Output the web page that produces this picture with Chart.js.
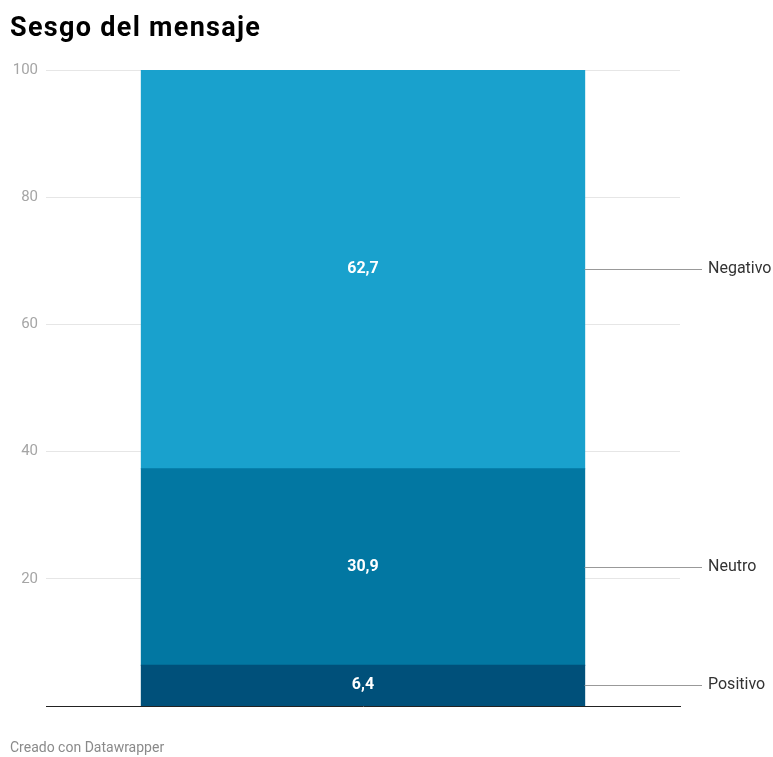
<!DOCTYPE html>
<html lang="es">
<head>
<meta charset="utf-8">
<title>Sesgo del mensaje</title>
<script src="https://cdn.jsdelivr.net/npm/chart.js@4/dist/chart.umd.min.js"></script>
<style>
    body { margin: 0; background: #fff; font-family: Roboto, sans-serif; }
    #contenedor { position: relative; width: 773px; height: 757px; }
    #titulo { position: absolute; left: 10px; top: 14px; margin: 0; font-size: 27px; line-height: 1; letter-spacing: 1.3px; font-weight: 700; color: #000; }
    #pie { position: absolute; left: 10px; top: 740px; font-size: 14px; line-height: 1; color: #8a8a8a; }
    #grafico { position: absolute; left: 0; top: 0; }
</style>
</head>
<body>
<div id="contenedor">
    <canvas id="grafico" width="773" height="757"></canvas>
    <h1 id="titulo">Sesgo del mensaje</h1>
    <div id="pie">Creado con Datawrapper</div>
</div>
<script>
// Datos del gráfico: una sola barra apilada.
const CATEGORIAS = ['Sesgo del mensaje'];
const SERIES = ['Positivo', 'Neutro', 'Negativo'];
const VALORES = [6.4, 30.9, 62.7];
const COLORES = ['#00507a', '#0277a2', '#19a1cd'];
const TICKS_Y = [0, 20, 40, 60, 80, 100];

// Formato de número con coma decimal.
const formato = (v) => v.toFixed(1).replace('.', ',');

// Plugin que escribe los valores dentro de cada tramo y las etiquetas con línea guía a la derecha.
const etiquetas = {
    id: 'etiquetas',
    afterDatasetsDraw(chart) {
        const ctx = chart.ctx;
        const area = chart.chartArea;
        ctx.save();
        chart.data.datasets.forEach((ds, i) => {
            const barra = chart.getDatasetMeta(i).data[0];
            const yMedio = (barra.y + barra.base) / 2;
            // Valor centrado en el tramo
            ctx.font = 'bold 16px Roboto, sans-serif';
            ctx.fillStyle = '#fff';
            ctx.textAlign = 'center';
            ctx.textBaseline = 'middle';
            ctx.fillText(formato(ds.data[0]), barra.x, yMedio);
            // Línea guía y nombre de la serie
            const xBorde = barra.x + barra.width / 2;
            ctx.strokeStyle = '#999';
            ctx.lineWidth = 1;
            ctx.beginPath();
            ctx.moveTo(xBorde, Math.round(yMedio) + 0.5);
            ctx.lineTo(area.right + 22, Math.round(yMedio) + 0.5);
            ctx.stroke();
            ctx.font = '16px Roboto, sans-serif';
            ctx.fillStyle = '#333';
            ctx.textAlign = 'left';
            ctx.fillText(ds.label, area.right + 28, yMedio);
        });
        ctx.restore();
    }
};

new Chart(document.getElementById('grafico'), {
    type: 'bar',
    data: {
        labels: CATEGORIAS,
        datasets: SERIES.map((nombre, i) => ({
            label: nombre,
            data: [VALORES[i]],
            backgroundColor: COLORES[i],
            borderWidth: 0,
            inflateAmount: 0.6,
            categoryPercentage: 1,
            barPercentage: 0.699
        }))
    },
    options: {
        responsive: false,
        animation: false,
        layout: { padding: { top: 70, bottom: 51, left: 0, right: 93 } },
        plugins: {
            legend: { display: false },
            tooltip: { enabled: false },
            title: { display: false }
        },
        scales: {
            x: {
                stacked: true,
                grid: { display: false, drawTicks: false },
                ticks: { display: false },
                border: { display: true, color: '#222', width: 1 },
                afterFit: (escala) => { escala.height = 0; }
            },
            y: {
                stacked: true,
                min: 0,
                max: 100,
                afterBuildTicks: (escala) => { escala.ticks = TICKS_Y.map(v => ({ value: v })); },
                ticks: {
                    padding: 8,
                    color: '#a5a5a5',
                    font: { family: 'Roboto, sans-serif', size: 15 },
                    callback: (v) => (v === 0 ? '' : v)
                },
                grid: {
                    drawTicks: false,
                    color: (c) => (c.tick && c.tick.value === 0 ? 'rgba(0,0,0,0)' : '#e6e6e6')
                },
                border: { display: false },
                afterFit: (escala) => { escala.width = 46; }
            }
        }
    },
    plugins: [etiquetas]
});
</script>
</body>
</html>
